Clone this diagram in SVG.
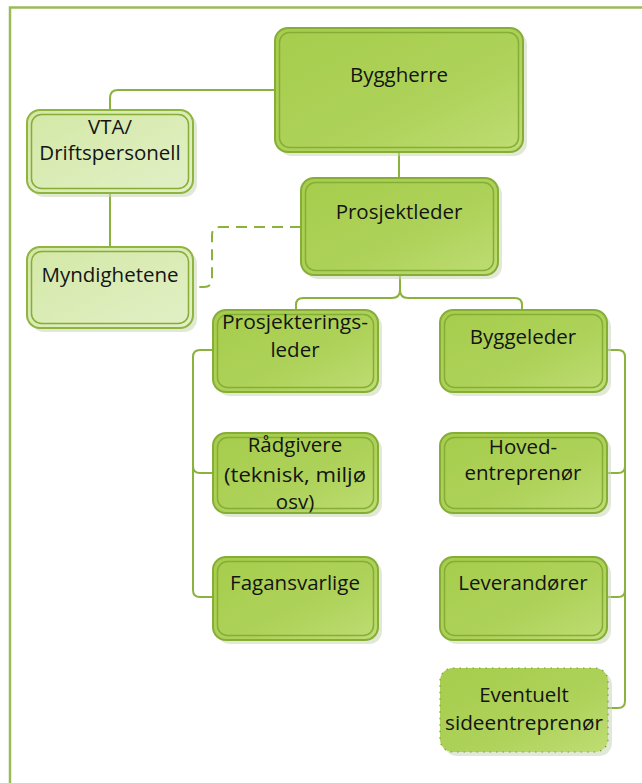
<svg xmlns="http://www.w3.org/2000/svg" width="642" height="783" viewBox="0 0 642 783">
<defs>
<linearGradient id="gDark" x1="0" y1="0" x2="1" y2="1">
<stop offset="0" stop-color="#a6cd4c"/>
<stop offset="0.6" stop-color="#aed25a"/>
<stop offset="1" stop-color="#bfdd74"/>
</linearGradient>
<linearGradient id="gLight" x1="0" y1="0" x2="1" y2="1">
<stop offset="0" stop-color="#d3e8a6"/>
<stop offset="1" stop-color="#e2f0c6"/>
</linearGradient>
<style>
.frame{fill:none;stroke:#9bbb59;stroke-width:2.5}
.shadow{fill:#c9d6b4;opacity:0.55}
.outer{stroke:#86ad36;stroke-width:2;fill:url(#gDark)}
.outerL{stroke:#8fb440;stroke-width:2;fill:url(#gLight)}
.inner{fill:none;stroke:#86ad36;stroke-width:1.5}
.dotted{stroke:#7a9a40;stroke-width:1.2;stroke-dasharray:1.5,5;fill:url(#gDark)}
.con{fill:none;stroke:#8cb23e;stroke-width:2}
.dash{stroke-dasharray:11,7}
text{font-family:"Open Sans","Noto Sans","Liberation Sans",sans-serif;font-size:20.5px;fill:#141414;text-anchor:middle}
</style>
</defs>
<path class="frame" d="M10,783 V7.5 H642"/>
<g id="connectors">
<path class="con" d="M275,90 H118 Q110,90 110,98 V110"/>
<path class="con" d="M110,193 V247"/>
<path class="con dash" d="M301,227 H220 Q212,227 212,235 V279 Q212,287 204,287 H193"/>
<path class="con" d="M399,152 V178"/>
<path class="con" d="M400,275 V290 Q400,298 392,298 H303 Q296,298 296,305 V310"/>
<path class="con" d="M400,290 Q400,298 408,298 H515 Q522,298 522,305 V310"/>
<path class="con" d="M213,350 H200 Q193,350 193,357 V590 Q193,597 200,597 H213"/>
<path class="con" d="M193,466 Q193,473 200,473 H213"/>
<path class="con" d="M607,350 H618 Q625,350 625,357 V701 Q625,708 618,708 H608"/>
<path class="con" d="M625,466 Q625,473 618,473 H607"/>
<path class="con" d="M625,590 Q625,597 618,597 H607"/>
</g>
<g id="byggherre">
<rect class="shadow" x="279" y="32" width="248" height="124" rx="13"/>
<rect class="outer" x="275" y="28" width="248" height="124" rx="13"/>
<rect class="inner" x="279.5" y="32.5" width="239" height="115" rx="10"/>
<text x="399" y="82">Byggherre</text>
</g>
<g id="prosjektleder">
<rect class="shadow" x="305" y="182" width="197" height="97" rx="13"/>
<rect class="outer" x="301" y="178" width="197" height="97" rx="13"/>
<rect class="inner" x="305.5" y="182.5" width="188" height="88" rx="10"/>
<text x="399" y="219">Prosjektleder</text>
</g>
<g id="vta">
<rect class="shadow" x="31" y="114" width="166" height="83" rx="13"/>
<rect class="outerL" x="27" y="110" width="166" height="83" rx="13"/>
<rect class="inner" x="31.5" y="114.5" width="157" height="74" rx="10"/>
<text x="110" y="134">VTA/</text>
<text x="110" y="160">Driftspersonell</text>
</g>
<g id="myndighetene">
<rect class="shadow" x="31" y="251" width="166" height="81" rx="13"/>
<rect class="outerL" x="27" y="247" width="166" height="81" rx="13"/>
<rect class="inner" x="31.5" y="251.5" width="157" height="72" rx="10"/>
<text x="110" y="282">Myndighetene</text>
</g>
<g id="prosjekteringsleder">
<rect class="shadow" x="217" y="314" width="165" height="82" rx="13"/>
<rect class="outer" x="213" y="310" width="165" height="82" rx="13"/>
<rect class="inner" x="217.5" y="314.5" width="156" height="73" rx="10"/>
<text x="295" y="329" textLength="146" lengthAdjust="spacingAndGlyphs">Prosjekterings-</text>
<text x="295" y="357">leder</text>
</g>
<g id="byggeleder">
<rect class="shadow" x="444" y="314" width="167" height="82" rx="13"/>
<rect class="outer" x="440" y="310" width="167" height="82" rx="13"/>
<rect class="inner" x="444.5" y="314.5" width="158" height="73" rx="10"/>
<text x="523" y="344">Byggeleder</text>
</g>
<g id="radgivere">
<rect class="shadow" x="217" y="437" width="165" height="80" rx="13"/>
<rect class="outer" x="213" y="433" width="165" height="80" rx="13"/>
<rect class="inner" x="217.5" y="437.5" width="156" height="71" rx="10"/>
<text x="295" y="452">Rådgivere</text>
<text x="295" y="482" textLength="142" lengthAdjust="spacingAndGlyphs">(teknisk, miljø</text>
<text x="295" y="509">osv)</text>
</g>
<g id="hovedentreprenor">
<rect class="shadow" x="444" y="437" width="167" height="80" rx="13"/>
<rect class="outer" x="440" y="433" width="167" height="80" rx="13"/>
<rect class="inner" x="444.5" y="437.5" width="158" height="71" rx="10"/>
<text x="523" y="454">Hoved-</text>
<text x="523" y="480">entreprenør</text>
</g>
<g id="fagansvarlige">
<rect class="shadow" x="217" y="561" width="165" height="83" rx="13"/>
<rect class="outer" x="213" y="557" width="165" height="83" rx="13"/>
<rect class="inner" x="217.5" y="561.5" width="156" height="74" rx="10"/>
<text x="295" y="590">Fagansvarlige</text>
</g>
<g id="leverandorer">
<rect class="shadow" x="444" y="561" width="167" height="83" rx="13"/>
<rect class="outer" x="440" y="557" width="167" height="83" rx="13"/>
<rect class="inner" x="444.5" y="561.5" width="158" height="74" rx="10"/>
<text x="523" y="590">Leverandører</text>
</g>
<g id="sideentreprenor">
<rect class="shadow" x="444" y="672" width="168" height="84" rx="13"/>
<rect class="dotted" x="440" y="668" width="168" height="84" rx="13"/>
<text x="524" y="702">Eventuelt</text>
<text x="524" y="730" textLength="158" lengthAdjust="spacingAndGlyphs">sideentreprenør</text>
</g>
</svg>
